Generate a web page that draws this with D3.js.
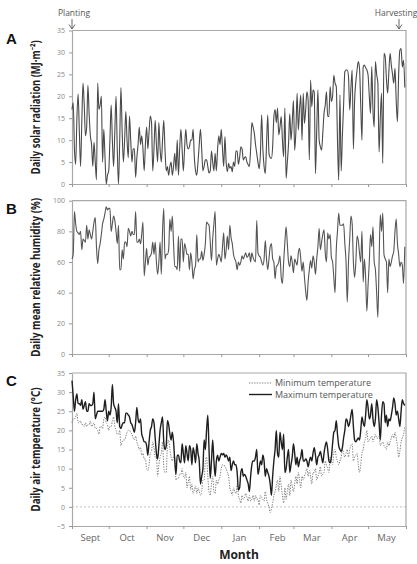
<!DOCTYPE html>
<html>
<head>
<meta charset="utf-8">
<script src="https://cdn.jsdelivr.net/npm/d3@7"></script>
<style>
  body { margin: 0; background: #fff; }
  svg { display: block; }
</style>
</head>
<body>
<div id="chart"></div>
<script>
// etiquetas de meses (eje x del panel C)
const months = ["Sept", "Oct", "Nov", "Dec", "Jan", "Feb", "Mar", "Apr", "May"];

// valores de los ticks del eje y
const ticksA = [0, 5, 10, 15, 20, 25, 30, 35];
const ticksB = [0, 20, 40, 60, 80, 100];
const ticksC = [-5, 0, 5, 10, 15, 20, 25, 30, 35];

// radiacion solar diaria (MJ m-2), 1 sept -> 31 mayo
const solar = [
  17, 18.5, 8, 4.5, 15, 20.5, 12, 4, 14, 23,
  18, 11, 13, 22.5, 16, 11, 9, 4, 9.5, 5,
  1, 23, 17, 18, 20, 5, 12.5, 6, 0, 2,
  3, 10, 18, 10, 4, 12, 20, 8, 0, 10,
  22, 12, 5, 10, 16.5, 10, 6, 15.5, 10, 5,
  8, 8, 1.5, 6, 9, 13, 9, 11, 8, 3,
  9, 13, 8, 12, 15.5, 14, 3, 8, 14.5, 9,
  5, 14, 8, 5, 10, 14.5, 8, 3, 4, 2,
  4, 5, 2, 4, 7, 3, 10, 2, 8, 12.5,
  8, 3, 8, 12.5, 9, 8, 8.5, 10, 10, 12.5,
  6, 3, 2, 5, 9, 12.5, 8, 3, 4, 5.5,
  5.5, 4, 2.5, 3, 7.5, 5, 3, 7, 3, 8,
  11, 9, 12.5, 8, 4, 10.8, 5, 2.8, 4.7, 3.6,
  4, 2.8, 5, 4, 7.5, 7.5, 4.5, 6, 8.5, 8,
  5.5, 6, 6.2, 5, 4.4, 4, 8, 14, 13, 11.6,
  9, 7, 5, 3.5, 7, 15.7, 8, 4, 2.4, 9,
  15.7, 7, 6, 5.8, 8.5, 15.3, 17, 14, 17.3, 11.2,
  13, 15.4, 10, 6.2, 17.3, 1.3, 5, 9.2, 16, 10,
  14, 19, 7.7, 12, 20.7, 12.3, 17, 20.3, 10, 20.7,
  13.8, 17, 21, 19.1, 5.5, 23.7, 17.6, 21.4, 21, 2.4,
  12, 21.4, 10, 8.5, 7.7, 11.6, 16.1, 18, 21, 15.4,
  15.4, 22.2, 18.8, 20, 24.8, 23, 22.2, 10, 0.9, 20.3,
  3, 11, 18, 25.6, 26, 26, 24.5, 16.9, 22, 26,
  8, 19.1, 23.3, 26, 27.9, 26.4, 18, 10, 26.7, 27.1,
  26.5, 26, 24.8, 20, 16.1, 26.7, 16.9, 13, 27.9, 25,
  23, 7.3, 15, 20.7, 4.7, 29.8, 29, 24, 20.7, 25.6,
  29.8, 27.1, 25, 23, 26.4, 19, 14.2, 25, 30.5, 30.9,
  26.7, 28.2, 22
];

// humedad relativa media diaria (%)
const humidity = [
  62, 65, 93, 85, 80, 79, 78, 80, 68, 75,
  74, 73, 84, 75, 81, 78, 75, 80, 86, 89,
  70, 59, 68, 72, 78, 85, 88, 92, 96, 94,
  95, 95, 80, 85, 90, 87, 80, 72, 84, 55,
  55, 68, 62, 73, 73, 70, 82, 80, 77, 80,
  78, 78, 93, 73, 73, 75, 72, 78, 86, 51,
  60, 69, 58, 63, 64, 66, 73, 65, 73, 60,
  52, 60, 73, 52, 80, 95, 62, 65, 65, 68,
  88, 80, 90, 72, 57, 57, 55, 77, 54, 75,
  75, 60, 72, 69, 65, 65, 55, 66, 60, 49,
  55, 58, 78, 60, 62, 62, 67, 61, 65, 72,
  86, 85, 84, 73, 61, 75, 85, 93, 58, 62,
  65, 63, 60, 70, 79, 62, 68, 77, 68, 84,
  76, 72, 65, 62, 60, 55, 60, 58, 60, 64,
  62, 64, 66, 63, 64, 66, 60, 66, 63, 61,
  60, 87, 66, 64, 63, 60, 58, 62, 74, 62,
  55, 62, 70, 72, 62, 60, 49, 57, 58, 60,
  64, 50, 46, 60, 73, 83, 72, 60, 57, 64,
  60, 53, 62, 60, 58, 66, 69, 62, 54, 60,
  50, 41, 35, 47, 55, 61, 56, 64, 60, 52,
  62, 70, 82, 68, 73, 78, 81, 66, 60, 79,
  75, 78, 63, 60, 50, 40, 68, 80, 92, 84,
  84, 84, 85, 72, 60, 34, 60, 75, 90, 85,
  60, 50, 60, 77, 74, 66, 60, 80, 47, 62,
  50, 28, 45, 60, 78, 70, 83, 60, 55, 40,
  24, 60, 91, 80, 92, 65, 62, 60, 40, 62,
  57, 60, 64, 67, 80, 88, 72, 65, 57, 60,
  58, 46, 70
];

// temperatura maxima diaria (°C)
const tempMax = [
  33, 29, 25, 28, 29.5, 27, 27, 26.5, 28, 25.5,
  26.5, 27.5, 25, 25, 27, 26.5, 26.5, 27, 30, 23,
  24, 25, 25, 25, 25, 25, 25.5, 28, 25, 22.5,
  25, 24, 26, 32, 27, 26, 25, 22, 27, 21,
  20.5, 21.5, 22, 22, 24.5, 24.5, 24, 23.5, 22, 21.5,
  20.5, 19.5, 22, 26, 23, 22, 23, 19, 18, 17,
  17, 16, 13.5, 17, 20, 21, 23, 22, 18, 14,
  12.5, 16, 20, 22, 23.5, 17, 15, 16, 22.5, 21.5,
  19, 17.5, 19.5, 17, 12, 8.5, 13.5, 13.5, 12, 11.5,
  16.5, 14, 11.5, 16, 14, 12, 16, 15, 11, 15.5,
  14, 11.5, 16.5, 14, 12, 6, 8, 10, 17.5, 15,
  20, 24, 15, 7.5, 12, 17.5, 12, 8, 12, 13.5,
  12, 13, 14, 13.6, 14, 13, 13.6, 13, 12, 13,
  9.5, 11, 12, 11, 11, 9, 4.4, 5, 9, 10,
  8, 8.5, 8, 7, 6, 4, 8, 11, 12, 12,
  13, 15, 8.5, 10, 12, 11, 13.6, 12, 8, 10,
  9, 8, 6, 3, 8, 12, 15, 20, 14, 13,
  19.5, 17, 15, 19, 9, 10, 13, 15, 9, 11,
  13, 16.5, 14, 11, 13, 10.5, 12, 13, 15, 12,
  12, 12.5, 12, 10.5, 12, 13, 12, 14, 15.5, 13.5,
  11, 13, 13.5, 14.5, 13, 11.5, 14, 16, 17, 15,
  12, 11.5, 13, 16.5, 19.5, 20, 22.5, 19, 16, 15,
  14.5, 15.5, 18, 20, 23, 22.5, 21, 22, 24, 25.5,
  21, 17.5, 17, 17.5, 18, 17.5, 20, 23.5, 22, 21,
  24, 28, 26, 23, 24, 27, 23, 21, 23, 28,
  26, 22, 17.5, 24, 27.5, 27, 22, 24, 21, 23,
  22.5, 24, 26, 28.5, 27, 24, 25, 23, 21, 25,
  28, 27, 26.5
];

// temperatura minima diaria (°C)
const tempMin = [
  22, 23, 23, 23.5, 24.5, 22, 22, 22.5, 21.5, 21.5,
  21, 22, 21, 21.5, 21.5, 22.5, 21, 21.5, 22, 20.5,
  20.5, 20, 19, 21, 21, 20.5, 23, 23.5, 22, 21.5,
  20, 21, 21, 22.5, 23.5, 21, 20, 19, 19, 20,
  16, 17, 17.5, 17.5, 18.5, 19.5, 20, 20, 19.5, 19,
  18, 17.5, 18.5, 17, 16, 15, 15.5, 13.5, 14, 12.5,
  12.5, 10, 9.5, 11, 14, 14.5, 17, 15.5, 13, 13,
  8, 11, 13, 14, 17, 10.5, 9, 9, 16, 17.5,
  15, 13, 12, 13, 13, 7, 7.5, 7.5, 8.5, 8.5,
  10, 8, 7.5, 9, 5, 6.5, 8, 4.5, 6, 3.5,
  4.5, 5.5, 3.5, 5, 4, 3, 4, 7, 7, 12,
  13, 8, 4, 3, 6, 8, 4, 3.5, 7, 6,
  7, 8, 10, 11, 11, 10.5, 10, 9, 8, 5,
  4, 3, 5, 4, 3.5, 6, 3, 2, 1, 3,
  2, 2.5, 3.5, 2.5, 1.5, 3, 1.5, 2, 3, 1.5,
  3, 2, 2, 0.5, 3, 2.5, 2, 1.5, 4, 2,
  1, 0, -1.5, -0.5, 1, 3, 4, 5.5, 7, 4,
  8, 5.5, 3, 1, 5, 2, 4, 6, 3, 7,
  5.5, 4, 6, 8, 6, 9, 7, 5, 8, 7,
  8, 9, 10, 8, 9.5, 8, 6, 9, 9, 10,
  7, 8, 9, 10.5, 8, 8.5, 9, 12, 11, 10,
  9, 13, 12, 11, 14, 15, 13, 12, 11, 12,
  13, 15, 14, 13, 14, 15, 13, 15, 16, 16.5,
  12, 13, 13.5, 14, 11, 9, 11, 14, 15, 17,
  18, 20, 17, 17.5, 18, 18.5, 17, 18, 19, 18,
  18, 18.5, 16, 16.5, 17, 16, 15.5, 15, 17, 16,
  17, 18, 19, 18, 19.5, 18, 16, 13, 14.5, 17,
  18, 19, 21
];

const width = 417;
const height = 564;

//hacemos el svg
const svg = d3.select("#chart")
  .append("svg")
  .attr("width", width)
  .attr("height", height)
  .style("font-family", "'Open Sans', 'Noto Sans', sans-serif");

// fechas diarias desde el 1 de septiembre
const start = new Date(2014, 8, 1);
const days = solar.map((d, i) => d3.timeDay.offset(start, i));

//escala x comun
const x = d3.scaleTime()
  .domain([start, new Date(2015, 5, 1)])
  .range([72, 406]);

const panels = [
  { letter: "A", top: 30.5, bottom: 184, domain: [0, 35], ticks: ticksA,
    title: "Daily solar radiation (MJ·m⁻²)", titleLen: 134 },
  { letter: "B", top: 200.7, bottom: 354, domain: [0, 100], ticks: ticksB,
    title: "Daily mean relative humidity (%)", titleLen: 159 },
  { letter: "C", top: 373, bottom: 526, domain: [-5, 35], ticks: ticksC,
    title: "Daily air temperature (°C)", titleLen: 124 }
];

panels.forEach(p => {
  p.y = d3.scaleLinear().domain(p.domain).range([p.bottom, p.top]);

  // marco superior y derecho
  svg.append("path")
    .attr("d", `M${x.range()[0]},${p.top}H${x.range()[1]}V${p.bottom}`)
    .attr("fill", "none")
    .attr("stroke", "#a8a8a8")
    .attr("stroke-width", 1.2);

  // eje y
  const gy = svg.append("g")
    .attr("transform", `translate(${x.range()[0]},0)`)
    .call(d3.axisLeft(p.y).tickValues(p.ticks).tickSize(3).tickSizeOuter(0).tickPadding(4));

  // eje x (solo marcas de los meses)
  const gx = svg.append("g")
    .attr("transform", `translate(0,${p.bottom})`)
    .call(d3.axisBottom(x).ticks(d3.timeMonth.every(1)).tickSize(3).tickSizeOuter(0).tickFormat(""));

  [gy, gx].forEach(g => {
    g.select(".domain").attr("stroke", "#a8a8a8").attr("stroke-width", 1.2);
    g.selectAll(".tick line").attr("stroke", "#999");
    g.selectAll(".tick text")
      .attr("fill", "#888")
      .style("font-size", "7px")
      .style("font-family", "'Open Sans', sans-serif");
  });

  // letra del panel
  svg.append("text")
    .attr("x", 6)
    .attr("y", p.top + 13)
    .style("font-size", "15px")
    .style("font-weight", "bold")
    .style("font-family", "'Liberation Sans', Arial, sans-serif")
    .attr("fill", "#111")
    .text(p.letter);

  // titulo del eje y
  svg.append("text")
    .attr("transform", `translate(40,${(p.top + p.bottom) / 2}) rotate(-90)`)
    .attr("text-anchor", "middle")
    .attr("textLength", p.titleLen)
    .attr("lengthAdjust", "spacingAndGlyphs")
    .style("font-size", "12px")
    .style("font-weight", "bold")
    .style("font-family", "'Liberation Sans Narrow', 'Noto Sans', sans-serif")
    .attr("fill", "#222")
    .text(p.title);
});

const [pA, pB, pC] = panels;

const makeLine = y => d3.line()
  .x((d, i) => x(days[i]))
  .y(d => y(d))
  .curve(d3.curveMonotoneX);

// linea cero punteada
svg.append("line")
  .attr("x1", x.range()[0])
  .attr("x2", x.range()[1])
  .attr("y1", pC.y(0))
  .attr("y2", pC.y(0))
  .attr("stroke", "#b0b0b0")
  .attr("stroke-width", 0.8)
  .attr("stroke-dasharray", "2,2");

// radiacion
svg.append("path")
  .datum(solar)
  .attr("fill", "none")
  .attr("stroke", "#4a4a4a")
  .attr("stroke-width", 1.1)
  .attr("d", makeLine(pA.y));

// humedad
svg.append("path")
  .datum(humidity)
  .attr("fill", "none")
  .attr("stroke", "#555")
  .attr("stroke-width", 1.1)
  .attr("d", makeLine(pB.y));

// temperaturas
svg.append("path")
  .datum(tempMin)
  .attr("fill", "none")
  .attr("stroke", "#808080")
  .attr("stroke-width", 1)
  .attr("stroke-dasharray", "1.3,1.3")
  .attr("d", makeLine(pC.y));

svg.append("path")
  .datum(tempMax)
  .attr("fill", "none")
  .attr("stroke", "#1e1e1e")
  .attr("stroke-width", 1.4)
  .attr("d", makeLine(pC.y));

// etiquetas de los meses a mitad de cada mes
svg.selectAll(".month")
  .data(months)
  .enter().append("text")
  .attr("class", "month")
  .attr("x", (d, i) => x(d3.timeDay.offset(d3.timeMonth.offset(start, i), 15)))
  .attr("y", 541)
  .attr("text-anchor", "middle")
  .attr("fill", "#666")
  .style("font-size", "9.5px")
  .text(d => d);

svg.append("text")
  .attr("x", 239)
  .attr("y", 559)
  .attr("text-anchor", "middle")
  .attr("fill", "#222")
  .style("font-size", "12px")
  .style("font-weight", "bold")
  .text("Month");

// leyenda
const legend = [
  { label: "Minimum temperature", dash: "1.3,1.3", color: "#808080", w: 1 },
  { label: "Maximum temperature", dash: null, color: "#1e1e1e", w: 1.4 }
];
legend.forEach((d, i) => {
  const ly = 383 + i * 11.5;
  svg.append("line")
    .attr("x1", 249).attr("x2", 272)
    .attr("y1", ly).attr("y2", ly)
    .attr("stroke", d.color)
    .attr("stroke-width", d.w)
    .attr("stroke-dasharray", d.dash);
  svg.append("text")
    .attr("x", 275)
    .attr("y", ly + 3)
    .attr("fill", "#555")
    .style("font-size", "9px")
    .text(d.label);
});

// flechas de siembra y cosecha
const marks = [
  { label: "Planting", x: 72, anchor: "middle", tx: 74 },
  { label: "Harvesting", x: 399, anchor: "middle", tx: 396 }
];
marks.forEach(m => {
  svg.append("text")
    .attr("x", m.tx)
    .attr("y", 16)
    .attr("text-anchor", m.anchor)
    .attr("fill", "#555")
    .style("font-size", "8.5px")
    .text(m.label);
  svg.append("path")
    .attr("d", `M${m.x},19V29M${m.x - 3},24.5L${m.x},29L${m.x + 3},24.5`)
    .attr("fill", "none")
    .attr("stroke", "#555")
    .attr("stroke-width", 0.9);
});
</script>
</body>
</html>
